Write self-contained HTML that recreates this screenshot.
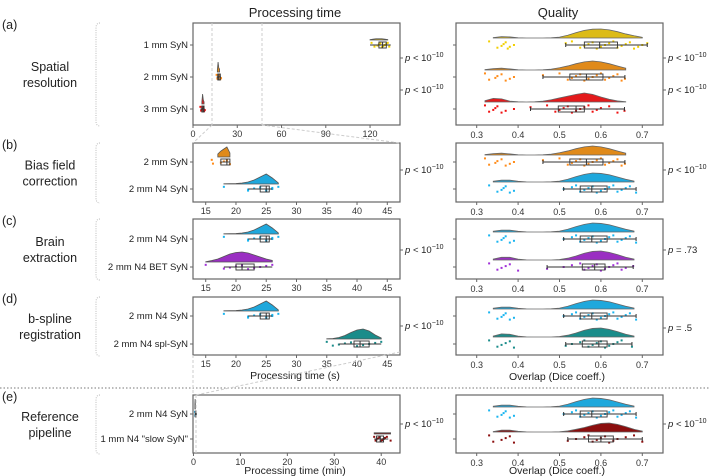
<!DOCTYPE html>
<html><head><meta charset="utf-8"><style>
html,body{margin:0;padding:0;background:#fff;}
svg{display:block;font-family:"Liberation Sans",sans-serif;}
</style></head><body>
<svg id="fig" width="709" height="476" viewBox="0 0 709 476" xmlns="http://www.w3.org/2000/svg">
<text x="295" y="17" font-size="13" text-anchor="middle" fill="#222">Processing time</text>
<text x="558" y="17" font-size="13" text-anchor="middle" fill="#222">Quality</text>
<line x1="0" y1="388" x2="709" y2="388" stroke="#777" stroke-dasharray="1.5,2"/>
<g id="layer"></g>
</svg>
<script>
// ---------- data ----------
const rowLabels = ["1 mm SyN","2 mm SyN","3 mm SyN","2 mm SyN","2 mm N4 SyN","2 mm N4 SyN","2 mm N4 BET SyN","2 mm N4 SyN","2 mm N4 spl-SyN","2 mm N4 SyN","1 mm N4 \"slow SyN\""];
const rowColors = ["#dcbb16","#e08a1a","#e31a1c","#e08a1a","#1fa8dc","#1fa8dc","#9a2fc2","#1fa8dc","#1a8c8a","#1fa8dc","#8b0e0e"];
const pointColors = ["#f2cf00","#ff8c1a","#f01010","#ff8c1a","#19b5f0","#19b5f0","#a030d8","#19b5f0","#1a8c8a","#19b5f0","#8b0e0e"];
// quality (Dice)
const qMin = [0.515,0.46,0.43,0.46,0.51,0.51,0.47,0.51,0.515,0.51,0.52];
const qQ1  = [0.56,0.525,0.497,0.525,0.55,0.55,0.555,0.55,0.555,0.55,0.57];
const qMed = [0.597,0.565,0.54,0.565,0.578,0.578,0.585,0.578,0.595,0.578,0.60];
const qQ3  = [0.64,0.605,0.56,0.605,0.615,0.615,0.61,0.615,0.615,0.615,0.63];
const qMax = [0.712,0.658,0.657,0.658,0.685,0.685,0.678,0.685,0.675,0.685,0.70];
const qDensX = [0.30,0.32,0.34,0.36,0.38,0.40,0.42,0.44,0.46,0.48,0.50,0.52,0.54,0.56,0.58,0.60,0.62,0.64,0.66,0.68,0.70,0.72];
const qDensA = [null,null,.05,.15,.12,.02,0,0,0,.02,.1,.3,.6,.85,.98,1,.9,.7,.45,.25,.08,null];
const qDensB = [null,.05,.15,.2,.12,.02,0,0,.03,.1,.25,.45,.7,.9,1,.9,.7,.45,.2,null,null,null];
const qDensC = [null,.15,.4,.35,.1,.02,0,.02,.1,.25,.45,.65,.85,1,.85,.55,.3,.12,.03,null,null,null];
const qDensN4 = [null,null,.08,.2,.2,.08,.01,0,0,.02,.1,.3,.6,.85,1,.95,.8,.55,.3,.1,null,null];
const qDensBET = [null,null,.1,.3,.3,.1,.01,0,0,0,.05,.2,.45,.75,.95,1,.85,.6,.3,.1,null,null];
const qDensSpl = [null,null,.1,.35,.3,.1,.01,0,0,0,.05,.2,.45,.75,.95,1,.85,.6,.3,.1,null,null];
const qDensSlow = [null,null,.05,.2,.2,.08,.01,0,0,0,.03,.12,.3,.5,.75,.95,1,.85,.6,.3,.1,null];
const qDens = [qDensA,qDensB,qDensC,qDensB,qDensN4,qDensN4,qDensBET,qDensN4,qDensSpl,qDensN4,qDensSlow];
const qPtsA = [0.33,0.35,0.36,0.365,0.37,0.375,0.38,0.39,0.515,0.53,0.55,0.56,0.57,0.58,0.59,0.60,0.61,0.62,0.63,0.64,0.65,0.66,0.67,0.68,0.69,0.70,0.712];
const qPtsB = [0.32,0.33,0.345,0.35,0.36,0.37,0.38,0.39,0.46,0.5,0.52,0.53,0.54,0.55,0.56,0.57,0.58,0.59,0.6,0.61,0.62,0.63,0.64,0.65,0.658];
const qPtsC = [0.32,0.33,0.34,0.345,0.35,0.36,0.37,0.39,0.43,0.47,0.49,0.5,0.51,0.52,0.53,0.54,0.55,0.56,0.57,0.58,0.59,0.6,0.62,0.64,0.657];
const qPtsN4 = [0.33,0.35,0.36,0.365,0.37,0.38,0.39,0.51,0.53,0.54,0.55,0.56,0.57,0.58,0.59,0.6,0.61,0.62,0.63,0.64,0.65,0.66,0.67,0.685];
const qPtsBET = [0.33,0.35,0.36,0.37,0.38,0.4,0.47,0.51,0.53,0.55,0.56,0.57,0.58,0.59,0.6,0.61,0.62,0.63,0.64,0.65,0.66,0.678];
const qPtsSpl = [0.33,0.35,0.36,0.37,0.38,0.39,0.515,0.53,0.55,0.56,0.57,0.58,0.59,0.6,0.61,0.62,0.63,0.64,0.65,0.675];
const qPtsSlow = [0.33,0.34,0.36,0.37,0.38,0.39,0.52,0.54,0.56,0.57,0.58,0.59,0.6,0.61,0.62,0.63,0.64,0.66,0.68,0.7];
const qPts = [qPtsA,qPtsB,qPtsC,qPtsB,qPtsN4,qPtsN4,qPtsBET,qPtsN4,qPtsSpl,qPtsN4,qPtsSlow];
// processing time
const tMin = [120,16,5,17.5,22,22,18,22,37,0.35,38.5];
const tQ1  = [126,16.8,6,17.5,24,24,20,24,39.5,0.38,39];
const tMed = [128.5,17.5,6.8,18.5,25,25,21,25,40.5,0.4,39.8];
const tQ3  = [131,18.5,7.5,19,25.5,25.5,23,25.5,42,0.42,40.5];
const tMax = [134,19,8,19,26,26,26,26,44,0.45,41.5];
const tDensStart = [120,16.5,6,17,18,18,15,18,35,0.3,38.5];
const tDensStep = [2,0.5,0.5,0.5,1,1,1,1,1,0.05,0.5];
const tDensA = [.05,.1,.15,.15,.15,.1,.05];
const tDensB = [.2,1,.4,.3];
const tDensC = [.2,1,.4,.2];
const tDensD = [.3,.6,.8,1,.4];
const tDensN4 = [.02,.03,.05,.1,.2,.4,.7,1,.6,.1];
const tDensBET = [.02,.15,.3,.55,.8,.95,1,.9,.7,.5,.3,.15];
const tDensSpl = [.02,.05,.15,.35,.65,.9,1,.8,.4,.1];
const tDensE1 = [.5,1,.5];
const tDensSlow = [.12,.12,.12,.12,.12,.12,.12,.12];
const tDens = [tDensA,tDensB,tDensC,tDensD,tDensN4,tDensN4,tDensBET,tDensN4,tDensSpl,tDensE1,tDensSlow];
const tPtsA = [121,123,125,126,127,128,129,130,131,132,133];
const tPtsB = [16,16.5,17,17.5,18,18.5,19];
const tPtsC = [5,5.5,6,6.5,7,7.5,8];
const tPtsD = [16,16.2,17.5,18,18.5,19];
const tPtsN4 = [18,22,22,23,24,25,25,26,26,27];
const tPtsBET = [15,18,19,20,21,22,23,24,25,26];
const tPtsSpl = [35,36,37,38,39,40,41,42,43,44];
const tPtsE1 = [0.35,0.4,0.45];
const tPtsSlow = [38.5,38.8,39,39.3,39.6,39.9,40.2,40.5,40.8,41.2,42];
const tPts = [tPtsA,tPtsB,tPtsC,tPtsD,tPtsN4,tPtsN4,tPtsBET,tPtsN4,tPtsSpl,tPtsE1,tPtsSlow];
// ticks
const timeTicksA = [0,30,60,90,120];
const timeTicksS = [15,20,25,30,35,40,45];
const timeTicksE = [0,10,20,30,40];
const qualTicks = [0.3,0.4,0.5,0.6,0.7];
const groupNames = [["Spatial","resolution"],["Bias field","correction"],["Brain","extraction"],["b-spline","registration"],["Reference","pipeline"]];
const groupTags = ["(a)","(b)","(c)","(d)","(e)"];
const pLeft = [["< ","−10"],["< ","−10"],["< ","−10"],["< ","−10"],["< ","−10"],["< ","−10"]];
const pRight = [["< ","−10"],["< ","−10"],["< ","−10"],["= .73",null],["= .5",null],["< ","−10"]];

// ---------- layout ----------
const panels = [
 {top:23,bot:125,rows:[0,1,2],rowY:[45,77,109],tdom:[0,140.3],ticks:timeTicksA},
 {top:143,bot:202,rows:[3,4],rowY:[162,189],tdom:[12.9,47.1],ticks:timeTicksS},
 {top:219,bot:279,rows:[5,6],rowY:[239,267],tdom:[12.9,47.1],ticks:timeTicksS},
 {top:297,bot:355,rows:[7,8],rowY:[316,344],tdom:[12.9,47.1],ticks:timeTicksS},
 {top:395,bot:453,rows:[9,10],rowY:[414,439],tdom:[-0.1,44],ticks:timeTicksE}
];
const LX0=193,LX1=400,RX0=456,RX1=663;
const pLeftY=[58,90,170,250,326,424], pRightY=[58,90,170,250,328,424];
const NS="http://www.w3.org/2000/svg";
const layer=document.getElementById('layer');
function mk(tag,attrs,parent){const e=document.createElementNS(NS,tag);for(const k in attrs)e.setAttribute(k,attrs[k]);(parent||layer).appendChild(e);return e;}
function qx(v){return RX0+(v-0.25)/(0.75-0.25)*(RX1-RX0);}
function jit(i){return ((i*7)%9-4)*0.9;}

panels.forEach((p,pi)=>{
  const tx=v=>LX0+(v-p.tdom[0])/(p.tdom[1]-p.tdom[0])*(LX1-LX0);
  const g=mk('g',{});
  
  
  let t=mk('text',{x:2,y:p.top+6,'font-size':12.5,fill:'#222'},g);t.textContent=groupTags[pi];
  
  const cy=(p.top+p.bot)/2;
  groupNames[pi].forEach((s,k)=>{const e=mk('text',{x:50,y:cy-3+k*16,'font-size':12.5,'text-anchor':'middle',fill:'#222'},g);e.textContent=s;
    });
  const br=mk('path',{d:`M100,${p.top} Q96,${p.top} 96,${p.top+5} L96,${p.bot-4} Q96,${p.bot+1} 100,${p.bot+1}`,fill:'none',stroke:'#bbb','stroke-dasharray':'1,1.3'},g);
  
  [[LX0,LX1,'time-panel'],[RX0,RX1,'quality-panel']].forEach(([a,b,n])=>{
    const r=mk('rect',{x:a,y:p.top,width:b-a,height:p.bot-p.top,fill:'none',stroke:'#666','stroke-width':1.2},g);
    });
  p.ticks.forEach(v=>{const x=tx(v);mk('line',{x1:x,x2:x,y1:p.bot,y2:p.bot+3,stroke:'#666'},g);
    const e=mk('text',{x:x,y:p.bot+12,'font-size':9,'text-anchor':'middle',fill:'#333'},g);e.textContent=v;
    });
  qualTicks.forEach(v=>{const x=qx(v);mk('line',{x1:x,x2:x,y1:p.bot,y2:p.bot+3,stroke:'#666'},g);
    const e=mk('text',{x:x,y:p.bot+13,'font-size':9,'text-anchor':'middle',fill:'#333'},g);e.textContent=v.toFixed(1);
    });
  p.rows.forEach((ri,k)=>{
    const y=p.rowY[k];
    const lab=mk('text',{x:188,y:y+3,'font-size':9.5,'text-anchor':'end',fill:'#222'},g);lab.textContent=rowLabels[ri];
    
    mk('line',{x1:LX0-3,x2:LX0,y1:y,y2:y,stroke:'#666'},g);
    mk('line',{x1:RX0-3,x2:RX0,y1:y,y2:y,stroke:'#666'},g);
    const tb=y-5, th=(pi===0?(ri===0?8:10):10);
    let d='',xs=[];
    tDens[ri].forEach((h,j)=>{const x=tx(tDensStart[ri]+j*tDensStep[ri]);xs.push(x);d+=(j?'L':'M')+x+','+(tb-h*th);});
    const tdp=mk('path',{d:d+`L${xs[xs.length-1]},${tb}L${xs[0]},${tb}Z`,fill:rowColors[ri],stroke:'#555','stroke-width':0.8},g);
    
    tPts[ri].forEach((v,i)=>{const c=mk('rect',{x:tx(v)-1,y:y+jit(i)*0.6-1,width:2,height:2,fill:pointColors[ri]},g);
      });
    mk('line',{x1:tx(tMin[ri]),x2:tx(tMax[ri]),y1:y,y2:y,stroke:'#333','stroke-width':0.9},g);
    const tbx=mk('rect',{x:tx(tQ1[ri]),y:y-3,width:Math.max(1,tx(tQ3[ri])-tx(tQ1[ri])),height:6,fill:'none',stroke:'#333','stroke-width':0.9},g);
    
    mk('line',{x1:tx(tMed[ri]),x2:tx(tMed[ri]),y1:y-3,y2:y+3,stroke:'#333','stroke-width':1},g);
    const qb=y-7, qh=9;
    let dq='',first=null,last=null;
    qDens[ri].forEach((h,j)=>{if(h===null)return;const x=qx(qDensX[j]);if(first===null){first=x;dq='M'+x+','+qb;}last=x;dq+='L'+x+','+(qb-h*qh);});
    const qdp=mk('path',{d:dq+`L${last},${qb}Z`,fill:rowColors[ri],stroke:'#666','stroke-width':0.8},g);
    
    qPts[ri].forEach((v,i)=>{const c=mk('rect',{x:qx(v)-1,y:y+jit(i)-1,width:2,height:2,fill:pointColors[ri]},g);
      });
    mk('line',{x1:qx(qMin[ri]),x2:qx(qMax[ri]),y1:y,y2:y,stroke:'#333','stroke-width':0.9},g);
    mk('line',{x1:qx(qMin[ri]),x2:qx(qMin[ri]),y1:y-2,y2:y+2,stroke:'#333'},g);
    mk('line',{x1:qx(qMax[ri]),x2:qx(qMax[ri]),y1:y-2,y2:y+2,stroke:'#333'},g);
    const qbx=mk('rect',{x:qx(qQ1[ri]),y:y-3,width:qx(qQ3[ri])-qx(qQ1[ri]),height:6,fill:'none',stroke:'#333','stroke-width':0.9},g);
    
    mk('line',{x1:qx(qMed[ri]),x2:qx(qMed[ri]),y1:y-3,y2:y+3,stroke:'#333','stroke-width':1},g);
  });
});
function pval(x,y,pv,name,tickX){
  mk('line',{x1:tickX,x2:tickX+3,y1:y,y2:y,stroke:'#666'});
  const t=mk('text',{x:x,y:y+3,'font-size':9.5,fill:'#222'});
  
  const a=mk('tspan',{'font-style':'italic'},t);a.textContent='p ';
  const b=mk('tspan',{},t);b.textContent=pv[0]+(pv[1]?'10':'');
  if(pv[1]){const c=mk('tspan',{dy:-4,'font-size':7},t);c.textContent=pv[1];}
}
pLeftY.forEach((y,i)=>pval(405,y,pLeft[i],'p-value-time',LX1));
pRightY.forEach((y,i)=>pval(668,y,pRight[i],'p-value-quality',RX1));
[[295,379,'Processing time (s)','time-axis-title-s'],[557,380,'Overlap (Dice coeff.)','quality-axis-title'],[295,474,'Processing time (min)','time-axis-title-min'],[557,474,'Overlap (Dice coeff.)','quality-axis-title-bottom']].forEach(([x,y,s,n])=>{
  const t=mk('text',{x:x,y:y,'font-size':10.5,'text-anchor':'middle',fill:'#222'});t.textContent=s;
  });
[[212,23,212,125],[262,23,262,125],[212,125,193,143],[262,125,400,143],[193,355,193,395],[400,352,196,395],[196,395,196,453]].forEach(([a,b,c,d])=>{
  const l=mk('line',{x1:a,y1:b,x2:c,y2:d,stroke:'#ccc','stroke-dasharray':'3,2'});
  });
</script>
</body></html>
